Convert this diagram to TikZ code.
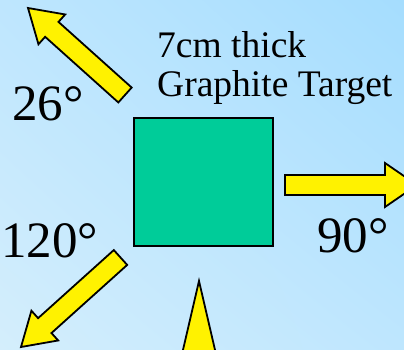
\documentclass[tikz,border=0pt]{standalone}
\usepackage{fontspec}
\setmainfont{Liberation Serif}
\usetikzlibrary{calc,shadings}
\definecolor{bgUR}{RGB}{165,221,254}
\definecolor{bgLL}{RGB}{212,238,252}
\definecolor{bgMid}{RGB}{190,230,254}
\definecolor{targetgreen}{RGB}{0,204,153}
\tikzset{
  fatarrow/.style={draw=black, fill=yellow, line width=1.8pt, line join=miter},
  targetbox/.style={draw=black, fill=targetgreen, line width=1.6pt, minimum width=139pt, minimum height=128pt, inner sep=0pt},
  bigtext/.style={inner sep=0pt, anchor=base west, font=\fontsize{37.5}{39}\selectfont},
  angtext/.style={inner sep=0pt, anchor=base west, font=\fontsize{51}{52}\selectfont}
}
% #1 tail, #2 tip, #3 head half width
\newcommand{\fatarr}[3]{%
  \coordinate (hb) at ($(#2)!32pt!(#1)$);
  \draw[fatarrow] ($(#1)!10pt!90:(#2)$) -- ($(hb)!10pt!-90:(#1)$) -- ($(hb)!#3!-90:(#1)$) -- (#2)
    -- ($(hb)!#3!90:(#1)$) -- ($(hb)!10pt!90:(#1)$) -- ($(#1)!10pt!-90:(#2)$) -- cycle;
}
\begin{document}
\begin{tikzpicture}[x=1pt, y=-1pt]
\useasboundingbox (0,0) rectangle (404,350);
\clip (0,0) rectangle (404,350);
\shade[upper left=bgMid, upper right=bgUR, lower left=bgLL, lower right=bgMid] (0,0) rectangle (404,350);

\node[targetbox] (target) at (203.5,182) {};

\coordinate (t26) at (125,95);
\coordinate (p26) at (28,8);
\fatarr{t26}{p26}{20pt}

\coordinate (t90) at (285,185);
\coordinate (p90) at (417,185);
\fatarr{t90}{p90}{22pt}

\coordinate (t120) at (120.5,257.5);
\coordinate (p120) at (21,347);
\fatarr{t120}{p120}{20pt}

\coordinate (pb) at (199,281);
\coordinate (bl) at (176,380);
\coordinate (br) at (222,380);
\draw[fatarrow] (pb) -- (br) -- (bl) -- cycle;

\node[bigtext] (l1) at (157,58) {7cm thick};
\node[bigtext] (l2) at (157,97) {Graphite Target};
\node[angtext] (a26) at (12,121) {26°};
\node[angtext] (a120) at (1,257) {120°};
\node[angtext] (a90) at (317,252) {90°};
\end{tikzpicture}
\end{document}
